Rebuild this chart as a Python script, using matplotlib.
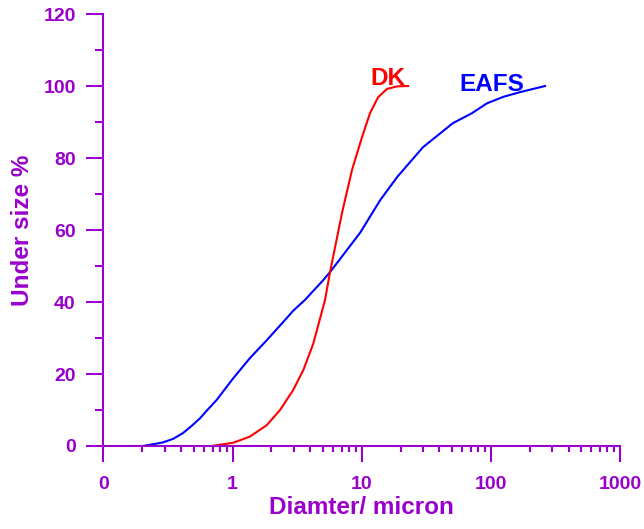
import matplotlib
matplotlib.use('Agg')
import matplotlib.pyplot as plt
from matplotlib.ticker import FixedLocator, FixedFormatter, LogLocator, NullFormatter

plt.rcParams['font.family'] = ['Liberation Sans', 'DejaVu Sans']
plt.rcParams['font.weight'] = 'bold'

purple = '#9900CC'

# EAFS curve (diameter in micron, under size %)
eafs_d = [0.202, 0.243, 0.289, 0.347, 0.413, 0.482, 0.559, 0.63, 0.753, 1.01, 1.36,
          1.84, 2.62, 2.95, 3.64, 5.01, 5.68, 9.7, 13.9, 18.8, 29.8, 50.9,
          71, 93.4, 125, 168, 263]
eafs_u = [0.0, 0.5, 1.0, 2.0, 3.6, 5.6, 7.7, 9.8, 12.8, 18.8, 24.4,
          29.4, 35.5, 37.6, 40.6, 46.0, 48.3, 59.2, 68.3, 74.7, 83.0, 89.7,
          92.4, 95.2, 97.0, 98.3, 100.0]

# DK curve
dk_d = [0.69, 1.01, 1.36, 1.84, 2.33, 2.95, 3.53, 4.22, 5.2, 5.68,
        7.03, 8.41, 10.05, 11.6, 13.4, 15.7, 18.8, 22.8]
dk_u = [0.0, 0.9, 2.6, 5.8, 10.0, 15.6, 21.1, 28.5, 40.6, 48.3,
        64.7, 76.7, 85.8, 92.5, 96.9, 99.2, 99.9, 100.0]

x_ticks = [0.1, 1, 10, 100, 1000]
x_labels = ['0', '1', '10', '100', '1000']
y_ticks = [0, 20, 40, 60, 80, 100, 120]

fig = plt.figure(figsize=(6.44, 5.29), dpi=100)
ax = fig.add_axes([0.1607, 0.1569, 0.8020, 0.8166])

ax.plot(eafs_d, eafs_u, color='#0000FF', lw=1.5)
ax.plot(dk_d, dk_u, color='#FF0000', lw=1.5)

ax.set_xscale('log')
ax.set_xlim(0.1, 1000)
ax.set_ylim(0, 120)

ax.xaxis.set_major_locator(FixedLocator(x_ticks))
ax.xaxis.set_major_formatter(FixedFormatter(x_labels))
ax.xaxis.set_minor_locator(LogLocator(base=10, subs=range(2, 10)))
ax.xaxis.set_minor_formatter(NullFormatter())
ax.set_yticks(y_ticks)
ax.set_yticks(range(10, 120, 20), minor=True)

for s in ['top', 'right']:
    ax.spines[s].set_visible(False)
for s in ['left', 'bottom']:
    ax.spines[s].set_color(purple)
    ax.spines[s].set_linewidth(1.5)

ax.tick_params(axis='both', which='both', direction='out', color=purple, width=1.5,
               labelcolor=purple, labelsize=14)
ax.tick_params(axis='y', which='major', length=12, pad=8)
ax.tick_params(axis='y', which='minor', length=6)
ax.tick_params(axis='x', which='major', length=11.5, pad=10)
ax.tick_params(axis='x', which='minor', length=4.5)
for lab in ax.get_xticklabels() + ax.get_yticklabels():
    lab.set_fontweight('bold')

ax.set_xlabel('Diamter/ micron', color=purple, fontsize=17.5, fontweight='bold', labelpad=2)
ax.set_ylabel('Under size %', color=purple, fontsize=17.5, fontweight='bold', labelpad=7)

ax.text(16, 102.2, 'DK', color='#FF0000', fontsize=17.5, fontweight='bold', ha='center', va='center')
ax.text(102, 100.3, 'EAFS', color='#0000FF', fontsize=17.5, fontweight='bold', ha='center', va='center')

fig.savefig('out.png', dpi=100)
